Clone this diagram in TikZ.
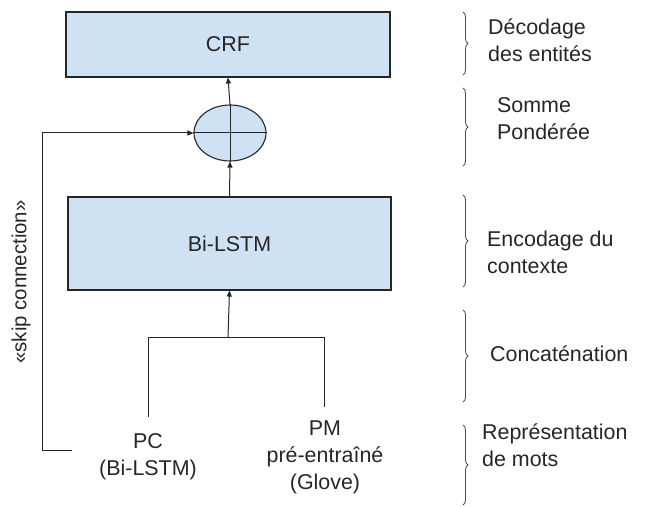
\documentclass[tikz,border=0pt]{standalone}
\usepackage{fontspec}
\setmainfont{Liberation Sans}
\usetikzlibrary{arrows.meta,decorations.pathreplacing,shapes.geometric}
\definecolor{boxfill}{HTML}{CFE2F3}
\definecolor{edge}{HTML}{262626}
\definecolor{bracegray}{HTML}{505050}
\begin{document}
\begin{tikzpicture}[x=1bp,y=-1bp,
  every node/.style={font=\fontsize{21.5}{27}\selectfont, text=edge},
  layer/.style={draw=edge, line width=1.1bp, fill=boxfill, rectangle, inner sep=0pt},
  sumnode/.style={draw=edge, line width=1.1bp, fill=boxfill, ellipse, minimum width=72bp, minimum height=56bp, inner sep=0pt},
  link/.style={draw=edge, line width=1bp},
  arr/.style={link, -{Triangle[length=6bp,width=5bp]}},
  grp/.style={draw=bracegray, line width=0.9bp, decorate, decoration={brace, amplitude=5bp}},
  lbl/.style={align=left, anchor=west, inner sep=0pt},
  src/.style={align=center, inner sep=0pt}]
\useasboundingbox (0,0) rectangle (647,507);

% layers
\node[layer, minimum width=324bp, minimum height=65bp] (crf) at (228,44.5) {CRF};
\node[sumnode] (sum) at (230,133) {};
\draw[link] (sum.north) -- (sum.south) (sum.west) -- (sum.east);
\node[layer, minimum width=323bp, minimum height=93bp] (bilstm) at (229.5,243.5) {Bi-LSTM};

% word representations
\node[src] (pc) at (148,457) {PC\\(Bi-LSTM)};
\node[src] (pm) at (325,457) {PM\\pré-entraîné\\(Glove)};

% concatenation
\coordinate (cl) at (148,337);
\coordinate (cr) at (324,337);
\coordinate (cm) at (228,337);
\coordinate (pctop) at (148,417);
\coordinate (pmtop) at (324,407);
\draw[link] (pctop) -- (cl) -- (cr) -- (pmtop);
\draw[arr] (cm) -- (bilstm.south);

% main flow
\draw[arr] (bilstm.north) -- (sum.south);
\draw[arr] (sum.north) -- (crf.south);

% skip connection
\coordinate (skipstart) at (72,450);
\coordinate (skipcorner) at (42,450);
\draw[arr] (skipstart) -- (skipcorner) -- (42,133) -- (sum.west);
\node[rotate=90, font=\fontsize{20.5}{24}\selectfont] (skiplbl) at (21,282) {«skip connection»};

% stage braces
\draw[grp] (463,12) -- (463,75);
\draw[grp] (463,88) -- (463,166);
\draw[grp] (463,195) -- (463,287);
\draw[grp] (463,310) -- (463,402);
\draw[grp] (463,425) -- (463,505);

% stage labels
\node[lbl] (l1) at (488,40) {Décodage\\des entités};
\node[lbl] (l2) at (497,119) {Somme\\Pondérée};
\node[lbl] (l3) at (487,252) {Encodage du\\contexte};
\node[lbl] (l4) at (490,354) {Concaténation};
\node[lbl] (l5) at (482,445) {Représentation\\de mots};
\end{tikzpicture}
\end{document}
